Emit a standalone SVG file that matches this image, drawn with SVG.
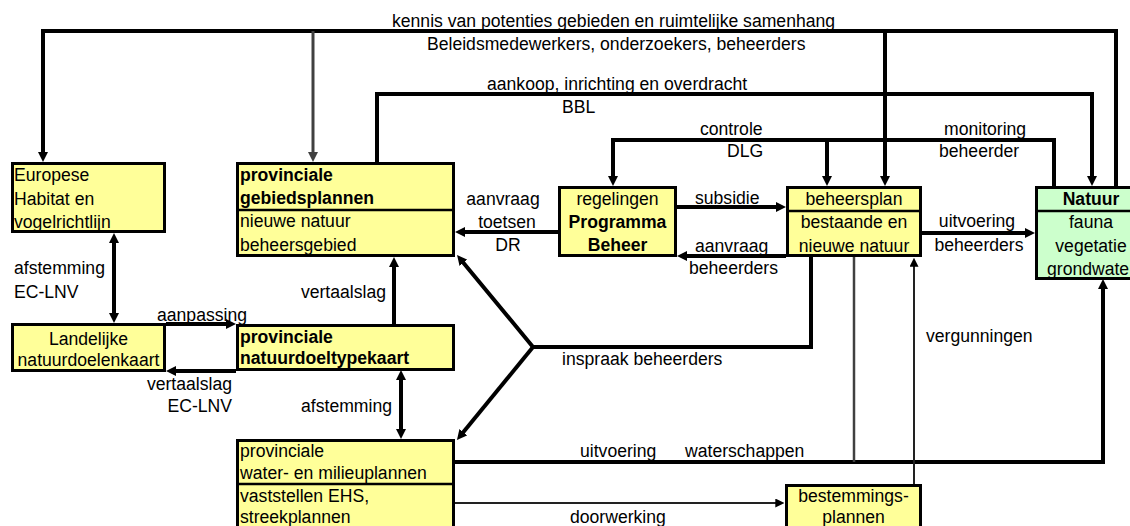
<svg xmlns="http://www.w3.org/2000/svg" width="1130" height="526" viewBox="0 0 1130 526">
<style>
text{font-family:"Liberation Sans",Arial,sans-serif;font-size:17.6px;fill:#000}
.b{font-weight:bold}
.m{text-anchor:middle}
.e{text-anchor:end}
.box{fill:#ffff99;stroke:#000;stroke-width:3}
.gr{fill:#ccffcc;stroke:#000;stroke-width:3}
.div{stroke:#000;stroke-width:2.5}
.c{fill:none;stroke:#000;stroke-width:4;stroke-linejoin:miter}
.g{fill:none;stroke:#404040;stroke-width:3}
.t{fill:none;stroke:#222;stroke-width:2}
</style>
<defs>
<marker id="ah" viewBox="0 0 10 10" markerWidth="10" markerHeight="10" markerUnits="userSpaceOnUse" refX="3" refY="5" orient="auto-start-reverse"><path d="M0,0L10,5L0,10z" fill="#000"/></marker>
<marker id="ahg" viewBox="0 0 10 10" markerWidth="10" markerHeight="10" markerUnits="userSpaceOnUse" refX="3" refY="5" orient="auto"><path d="M0,0L10,5L0,10z" fill="#404040"/></marker>
<marker id="aht" viewBox="0 0 10 10" markerWidth="9" markerHeight="9" markerUnits="userSpaceOnUse" refX="3" refY="5" orient="auto"><path d="M0,0L10,5L0,10z" fill="#000"/></marker>
</defs>

<g id="connectors">
<path class="c" d="M1116,186V31H43V155" marker-end="url(#ah)"/>
<path class="g" d="M313,31V155" marker-end="url(#ahg)"/>
<path class="c" d="M885,31V179" marker-end="url(#ah)"/>
<path class="c" d="M377,162V94H1092V179" marker-end="url(#ah)"/>
<path class="c" d="M1054,186V140H613V179" marker-end="url(#ah)"/>
<path class="c" d="M827,140V179" marker-end="url(#ah)"/>
<path class="c" d="M558,232H462" marker-end="url(#ah)"/>
<path class="c" d="M677,207H779" marker-end="url(#ah)"/>
<path class="c" d="M786,256H684" marker-end="url(#ah)"/>
<path class="c" d="M922,233H1028" marker-end="url(#ah)"/>
<path class="c" d="M811,257V347H533L461.5,260.4" marker-end="url(#ah)"/>
<path class="c" d="M533,347L461.4,434.6" marker-end="url(#ah)"/>
<path class="c" d="M114,240V316" marker-start="url(#ah)" marker-end="url(#ah)"/>
<path class="c" d="M166,324H229" marker-end="url(#ah)"/>
<path class="c" d="M236,371H173" marker-end="url(#ah)"/>
<path class="c" d="M394,324V264" marker-end="url(#ah)"/>
<path class="c" d="M401,377V432" marker-start="url(#ah)" marker-end="url(#ah)"/>
<path class="c" d="M455,462H1103V286" marker-end="url(#ah)"/>
<path class="g" d="M854,257V462" style="stroke-width:2.5"/>
<path class="t" d="M914,484V264" marker-end="url(#aht)"/>
<path class="t" d="M455,503H778" marker-end="url(#aht)"/>
</g>

<g id="labels">
<text x="392" y="27">kennis van potenties gebieden en ruimtelijke samenhang</text>
<text x="427" y="50">Beleidsmedewerkers, onderzoekers, beheerders</text>
<text x="487" y="90">aankoop, inrichting en overdracht</text>
<text x="562" y="113">BBL</text>
<text x="700" y="135">controle</text>
<text x="727" y="157">DLG</text>
<text x="944" y="135">monitoring</text>
<text x="939" y="157">beheerder</text>
<text class="m" x="503" y="205">aanvraag</text>
<text class="m" x="507" y="228">toetsen</text>
<text class="m" x="508" y="251">DR</text>
<text x="695" y="204">subsidie</text>
<text x="695" y="252">aanvraag</text>
<text x="689" y="274">beheerders</text>
<text class="m" x="977" y="227">uitvoering</text>
<text class="m" x="979" y="251">beheerders</text>
<text x="14" y="274">afstemming</text>
<text x="14" y="298">EC-LNV</text>
<text x="157" y="321">aanpassing</text>
<text class="e" x="232" y="390">vertaalslag</text>
<text class="e" x="232" y="412">EC-LNV</text>
<text class="e" x="386" y="298">vertaalslag</text>
<text class="e" x="392" y="412">afstemming</text>
<text x="562" y="365">inspraak beheerders</text>
<text x="580" y="457">uitvoering</text>
<text x="685" y="457">waterschappen</text>
<text x="926" y="342">vergunningen</text>
<text x="570" y="523">doorwerking</text>
</g>

<g id="europese">
<rect class="box" x="12.5" y="163.5" width="152" height="68"/>
<text x="14" y="181">Europese</text>
<text x="14" y="205">Habitat en</text>
<text x="14" y="228">vogelrichtlijn</text>
</g>

<g id="gebiedsplannen">
<rect class="box" x="237.5" y="163.5" width="216" height="92"/>
<line class="div" x1="237.5" y1="210" x2="453.5" y2="210"/>
<text class="b" x="240" y="181">provinciale</text>
<text class="b" x="240" y="204">gebiedsplannen</text>
<text x="240" y="227">nieuwe natuur</text>
<text x="240" y="251">beheersgebied</text>
</g>

<g id="programma">
<rect class="box" x="559.5" y="187.5" width="116" height="68"/>
<text class="m" x="617.5" y="205">regelingen</text>
<text class="m b" x="617.5" y="228">Programma</text>
<text class="m b" x="617.5" y="251">Beheer</text>
</g>

<g id="beheersplan">
<rect class="box" x="787.5" y="187.5" width="133" height="68"/>
<line class="div" x1="787.5" y1="211" x2="920.5" y2="211"/>
<text class="m" x="854" y="205">beheersplan</text>
<text class="m" x="854" y="228">bestaande en</text>
<text class="m" x="854" y="252">nieuwe natuur</text>
</g>

<g id="natuur">
<rect class="gr" x="1036.5" y="187.5" width="110" height="91"/>
<line class="div" x1="1036.5" y1="211" x2="1146.5" y2="211"/>
<text class="m b" x="1091" y="205">Natuur</text>
<text class="m" x="1091" y="228">fauna</text>
<text class="m" x="1091" y="252">vegetatie</text>
<text class="m" x="1091" y="275">grondwater</text>
</g>

<g id="landelijke">
<rect class="box" x="12.5" y="324.5" width="152" height="46"/>
<text class="m" x="88.5" y="345">Landelijke</text>
<text class="m" x="88.5" y="366">natuurdoelenkaart</text>
</g>

<g id="natuurdoeltypekaart">
<rect class="box" x="237.5" y="325.5" width="216" height="44"/>
<text class="b" x="240" y="343">provinciale</text>
<text class="b" x="240" y="364">natuurdoeltypekaart</text>
</g>

<g id="waterplannen">
<rect class="box" x="237.5" y="440.5" width="216" height="100"/>
<line class="div" x1="237.5" y1="484" x2="453.5" y2="484"/>
<text x="240" y="457">provinciale</text>
<text x="240" y="479">water- en milieuplannen</text>
<text x="240" y="502">vaststellen EHS,</text>
<text x="240" y="523">streekplannen</text>
</g>

<g id="bestemmingsplannen">
<rect class="box" x="786.5" y="485.5" width="134" height="60"/>
<text class="m" x="853.5" y="502">bestemmings-</text>
<text class="m" x="853.5" y="523">plannen</text>
</g>
</svg>
